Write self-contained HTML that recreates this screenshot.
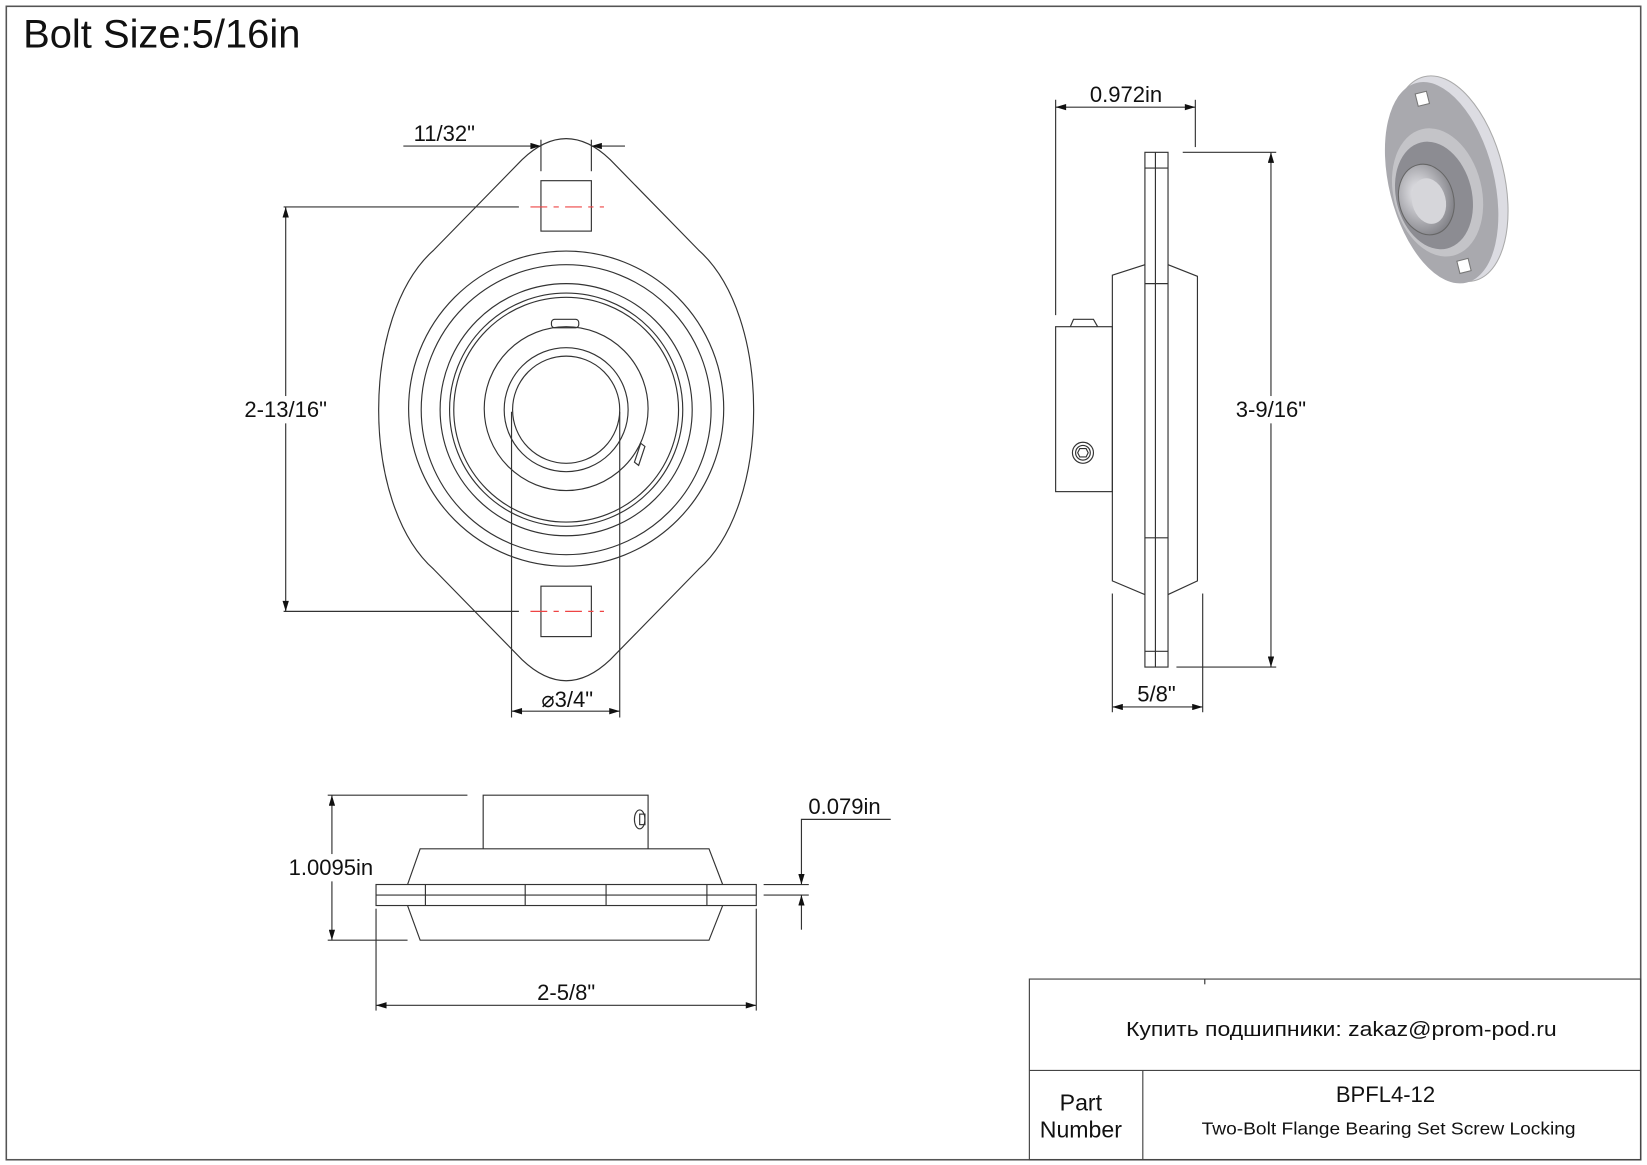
<!DOCTYPE html>
<html><head><meta charset="utf-8"><style>
html,body{margin:0;padding:0;background:#fff}
svg{display:block}
text{font-family:"Liberation Sans","Noto Sans CJK SC",sans-serif;fill:#111}
</style></head><body>
<svg width="1647" height="1165" viewBox="0 0 1568 1109" preserveAspectRatio="none" xmlns="http://www.w3.org/2000/svg">
<defs>
<marker id="a" viewBox="0 0 10 6" refX="10" refY="3" markerWidth="12" markerHeight="6" markerUnits="userSpaceOnUse" orient="auto-start-reverse"><path d="M0,0 L10,3 L0,6 Z" fill="#111"/></marker>
<radialGradient id="g1" cx="0.4" cy="0.4" r="0.7"><stop offset="0" stop-color="#eeeef2"/><stop offset="1" stop-color="#77777d"/></radialGradient>
</defs>
<rect x="6" y="6" width="1556" height="1098" fill="none" stroke="#555" stroke-width="1.5"/>
<text x="22" y="45" font-size="38">Bolt Size:5/16in</text>

<g fill="none" stroke="#333" stroke-width="1.1">
<path d="M497,152 Q539,112 581,152 L665,238 C735,300 735,480 665,542 L581,628 Q539,668 497,628 L413,542 C343,480 343,300 413,238 Z"/>
<circle cx="539" cy="389" r="150"/>
<circle cx="539" cy="390" r="138"/>
<circle cx="539" cy="390" r="120"/>
<circle cx="539" cy="390" r="111"/>
<circle cx="539" cy="390" r="107"/>
<circle cx="539" cy="389" r="78"/>
<circle cx="539" cy="390" r="59"/>
<circle cx="539" cy="390" r="51"/>
<rect x="525" y="304" width="26" height="8" rx="3"/>
<path d="M604,440 L610,422 L614,425 L608,443 Z"/>
<rect x="515" y="172" width="48" height="48"/>
<rect x="515" y="558" width="48" height="48"/>
<line x1="270" y1="197" x2="494" y2="197"/>
<line x1="270" y1="582" x2="494" y2="582"/>
<line x1="272" y1="197" x2="272" y2="582" marker-start="url(#a)" marker-end="url(#a)"/>
<line x1="384" y1="139" x2="515" y2="139" marker-end="url(#a)"/>
<line x1="595" y1="139" x2="563" y2="139" marker-end="url(#a)"/>
<line x1="515" y1="133" x2="515" y2="163"/>
<line x1="563" y1="133" x2="563" y2="163"/>
<line x1="487" y1="392" x2="487" y2="683"/>
<line x1="590" y1="392" x2="590" y2="683"/>
<line x1="487" y1="677" x2="590" y2="677" marker-start="url(#a)" marker-end="url(#a)"/>

<rect x="1090" y="145" width="22" height="490"/>
<line x1="1100" y1="145" x2="1100" y2="635"/>
<line x1="1090" y1="160" x2="1112" y2="160"/>
<line x1="1090" y1="270" x2="1112" y2="270"/>
<line x1="1090" y1="512" x2="1112" y2="512"/>
<line x1="1090" y1="620" x2="1112" y2="620"/>
<path d="M1090,252 L1059,262 L1059,553 L1090,566"/>
<path d="M1112,252 L1140,263 L1140,553 L1112,566"/>
<rect x="1005" y="311" width="54" height="157"/>
<path d="M1019,311 L1022,304 L1041,304 L1045,311"/>
<circle cx="1031" cy="431" r="10"/>
<circle cx="1031" cy="431" r="7"/>
<path d="M1026,431 L1028,427 L1034,427 L1036,431 L1034,435 L1028,435 Z"/>
<line x1="1005" y1="95" x2="1005" y2="300"/>
<line x1="1138" y1="95" x2="1138" y2="140"/>
<line x1="1005" y1="102" x2="1138" y2="102" marker-start="url(#a)" marker-end="url(#a)"/>
<line x1="1126" y1="145" x2="1215" y2="145"/>
<line x1="1120" y1="635" x2="1215" y2="635"/>
<line x1="1210" y1="145" x2="1210" y2="635" marker-start="url(#a)" marker-end="url(#a)"/>
<line x1="1059" y1="565" x2="1059" y2="678"/>
<line x1="1145" y1="565" x2="1145" y2="678"/>
<line x1="1059" y1="673" x2="1145" y2="673" marker-start="url(#a)" marker-end="url(#a)"/>

<rect x="358" y="842" width="362" height="20"/>
<line x1="358" y1="852" x2="720" y2="852"/>
<line x1="405" y1="842" x2="405" y2="862"/>
<line x1="500" y1="842" x2="500" y2="862"/>
<line x1="577" y1="842" x2="577" y2="862"/>
<line x1="673" y1="842" x2="673" y2="862"/>
<path d="M388,842 L400,808 L675,808 L688,842"/>
<path d="M388,862 L400,895 L675,895 L688,862"/>
<path d="M460,808 L460,757 L617,757 L617,808"/>
<ellipse cx="609" cy="780" rx="5" ry="9"/>
<rect x="609" y="775" width="5" height="10"/>
<line x1="312" y1="757" x2="445" y2="757"/>
<line x1="312" y1="895" x2="388" y2="895"/>
<line x1="316" y1="757" x2="316" y2="895" marker-start="url(#a)" marker-end="url(#a)"/>
<line x1="358" y1="865" x2="358" y2="962"/>
<line x1="720" y1="865" x2="720" y2="962"/>
<line x1="358" y1="957" x2="720" y2="957" marker-start="url(#a)" marker-end="url(#a)"/>
<line x1="727" y1="842" x2="770" y2="842"/>
<line x1="727" y1="852" x2="770" y2="852"/>
<path d="M848,780 L763,780 L763,842" marker-end="url(#a)"/>
<line x1="763" y1="885" x2="763" y2="852" marker-end="url(#a)"/>

<rect x="980" y="932" width="582" height="172" stroke="#444"/>
<line x1="980" y1="1019" x2="1562" y2="1019" stroke="#444"/>
<line x1="1088" y1="1019" x2="1088" y2="1104" stroke="#444"/>
<line x1="1147" y1="932" x2="1147" y2="937"/>
</g>
<g stroke="#e44" stroke-width="1.1" stroke-dasharray="16,6,5,6" fill="none">
<line x1="505" y1="197" x2="575" y2="197"/>
<line x1="505" y1="582" x2="575" y2="582"/>
</g>

<!-- 3D image -->
<g transform="translate(1372,172) rotate(-14)">
<ellipse cx="8" cy="0" rx="52" ry="100" fill="#dcdce2" stroke="#aaa"/>
<ellipse cx="0" cy="2" rx="50" ry="98" fill="#a9a9ae"/>
<ellipse cx="-6" cy="10" rx="42" ry="62" fill="#c4c4c8"/>
<ellipse cx="-10" cy="12" rx="36" ry="52" fill="#8c8c92"/>
<ellipse cx="-18" cy="14" rx="26" ry="34" fill="url(#g1)" stroke="#666"/>
<ellipse cx="-16" cy="16" rx="16" ry="22" fill="#d6d6da"/>
<rect x="-4" y="-86" width="11" height="12" fill="#fff" stroke="#777"/>
<rect x="-4" y="78" width="11" height="12" fill="#fff" stroke="#777"/>
</g>

<g font-size="21" text-anchor="middle">
<rect x="228" y="377" width="90" height="26" fill="#fff"/>
<text x="272" y="397">2-13/16"</text>
<text x="423" y="134">11/32"</text>
<text x="540" y="673">⌀3/4"</text>
<text x="1072" y="97">0.972in</text>
<rect x="1168" y="377" width="84" height="26" fill="#fff"/>
<text x="1210" y="397">3-9/16"</text>
<text x="1101" y="668">5/8"</text>
<rect x="270" y="813" width="90" height="26" fill="#fff"/>
<text x="315" y="833">1.0095in</text>
<text x="539" y="952">2-5/8"</text>
<text x="804" y="775">0.079in</text>
<text x="1277" y="986" font-size="19" textLength="410" lengthAdjust="spacingAndGlyphs">Купить подшипники: zakaz@prom-pod.ru</text>
<text x="1319" y="1049" font-size="21">BPFL4-12</text>
<text x="1322" y="1080" font-size="17" textLength="356" lengthAdjust="spacingAndGlyphs">Two-Bolt Flange Bearing Set Screw Locking</text>
<text x="1029" y="1057" font-size="22">Part</text>
<text x="1029" y="1083" font-size="22">Number</text>
</g>
</svg>
</body></html>
